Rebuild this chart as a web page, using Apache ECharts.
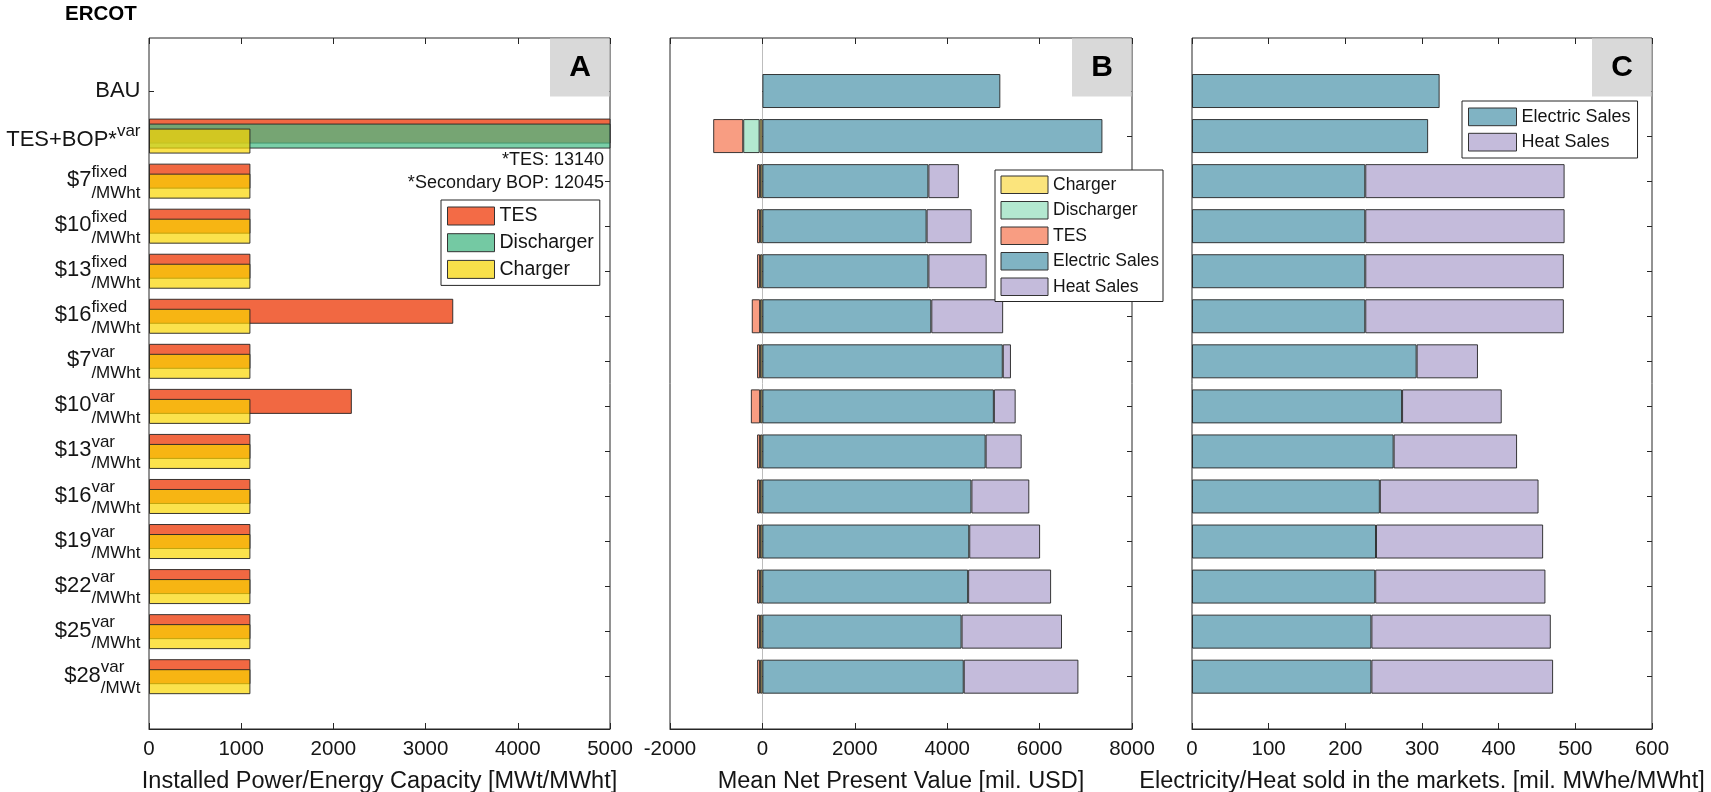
<!DOCTYPE html>
<html>
<head>
<meta charset="utf-8">
<script src="https://cdn.jsdelivr.net/npm/echarts@6/dist/echarts.min.js"></script>
<style>
  html, body { margin: 0; padding: 0; background: #fff; }
  #chart { width: 1711px; height: 792px; }
</style>
</head>
<body>
<div id="chart"></div>
<script>
// ---- Scenario labels (main text, superscript, subscript) ----
const caseMain = ['BAU', 'TES+BOP*', '$7', '$10', '$13', '$16', '$7', '$10', '$13', '$16', '$19', '$22', '$25', '$28'];
const caseSup  = ['', 'var', 'fixed', 'fixed', 'fixed', 'fixed', 'var', 'var', 'var', 'var', 'var', 'var', 'var', 'var'];
const caseSub  = ['', '', '/MWht', '/MWht', '/MWht', '/MWht', '/MWht', '/MWht', '/MWht', '/MWht', '/MWht', '/MWht', '/MWht', '/MWt'];

// ---- Panel A: installed capacity [MWt / MWht] ----
const capTES        = [0, 13140, 1100, 1100, 1100, 3300, 1100, 2200, 1100, 1100, 1100, 1100, 1100, 1100];
const capDischarger = [0, 12045, 0, 0, 0, 0, 0, 0, 0, 0, 0, 0, 0, 0];
const capCharger    = [0, 1100, 1100, 1100, 1100, 1100, 1100, 1100, 1100, 1100, 1100, 1100, 1100, 1100];

// ---- Panel B: mean net present value [mil. USD] ----
const npvCharger    = [0, -60, -50, -50, -50, -50, -50, -50, -50, -50, -50, -50, -50, -50];
const npvDischarger = [0, -355, 0, 0, 0, 0, 0, 0, 0, 0, 0, 0, 0, 0];
const npvTES        = [0, -650, -65, -65, -65, -180, -65, -200, -65, -65, -65, -65, -65, -65];
const npvElectric   = [5150, 7360, 3593, 3554, 3593, 3656, 5203, 5010, 4832, 4524, 4477, 4453, 4311, 4358];
const npvHeat       = [0, 0, 659, 975, 1261, 1555, 177, 472, 780, 1253, 1534, 1796, 2174, 2482];

// ---- Panel C: energy sold [mil. MWhe / MWht] ----
const mktElectric = [323, 308, 226, 226, 226, 226, 293, 274, 263, 245, 240, 239, 234, 234];
const mktHeat     = [0, 0, 260, 260, 259, 259, 80, 130, 161, 207, 218, 222, 234, 237];

// ---- Axis ranges ----
const axisA = { min: 0, max: 5000, interval: 1000 };
const axisB = { min: -2000, max: 8000, interval: 2000 };
const axisC = { min: 0, max: 600, interval: 100 };

const FONT = '"Liberation Sans", Arial, Helvetica, sans-serif';
const TXT = '#151515';
const AX = '#262626';
const EDGE = 'rgba(35,35,35,0.9)';

// layout of the three panels
const panels = [
  { left: 149, width: 461 },
  { left: 670, width: 462 },
  { left: 1192, width: 460 }
];
const frameTop = 38, frameHeight = 691;
const barTop = 68.5, barHeight = 630.7;

const keys = caseMain.map((_, i) => String(i));
const nz = arr => arr.map(v => (v === 0 ? '-' : v));

// rich text for the scenario labels: main text followed by a stacked super/subscript
const MAIN_SIZE = 22;
const measure = document.createElement('canvas').getContext('2d');
measure.font = MAIN_SIZE + 'px "Liberation Sans"';
const rich = {
  b:  { fontSize: MAIN_SIZE, fontFamily: FONT, color: TXT, align: 'left' },
  m:  { fontSize: MAIN_SIZE, fontFamily: FONT, color: TXT, align: 'left', lineHeight: 1 },
  s:  { fontSize: 17, fontFamily: FONT, color: TXT, align: 'left', lineHeight: 15.6 },
  u:  { fontSize: 17, fontFamily: FONT, color: TXT, align: 'left', lineHeight: 24.4 },
  e:  { fontSize: 1, align: 'left', lineHeight: 6.8 },
  s2: { fontSize: 17, fontFamily: FONT, color: TXT, align: 'left', lineHeight: 8 },
  m2: { fontSize: MAIN_SIZE, fontFamily: FONT, color: TXT, align: 'left', lineHeight: 8.6 }
};
caseMain.forEach((t, i) => {
  rich['p' + i] = { width: measure.measureText(t).width, fontSize: 1, lineHeight: 1, align: 'left' };
});
function caseLabel(value) {
  const i = Number(value);
  const m = caseMain[i], s = caseSup[i], u = caseSub[i];
  if (!s && !u) return '{b|' + m + '}';
  if (!u) return '{p' + i + '| }{s2|' + s + '}\n{m2|' + m + '}';
  return '{e| }\n{p' + i + '| }{s|' + s + '}\n{m|' + m + '}\n{p' + i + '| }{u|' + u + '}';
}

const grids = [];
const xAxes = [];
const yAxes = [];
const ranges = [axisA, axisB, axisC];
const names = [
  'Installed Power/Energy Capacity [MWt/MWht]',
  'Mean Net Present Value [mil. USD]',
  'Electricity/Heat sold in the markets. [mil. MWhe/MWht]'
];

panels.forEach((p, k) => {
  const r = ranges[k];
  grids.push({ left: p.left, top: frameTop, width: p.width, height: frameHeight, show: true,
    borderColor: AX, borderWidth: 1, backgroundColor: 'transparent', containLabel: false, outerBoundsMode: 'none' });
  grids.push({ left: p.left, top: barTop, width: p.width, height: barHeight, show: false,
    containLabel: false, outerBoundsMode: 'none' });

  xAxes.push({
    gridIndex: 2 * k, type: 'value', position: 'bottom', min: r.min, max: r.max, interval: r.interval,
    axisLine: { show: true, onZero: false, lineStyle: { color: AX, width: 1 } },
    axisTick: { show: true, inside: true, length: 6, lineStyle: { color: AX } },
    axisLabel: { margin: 10, fontSize: 20.5, color: TXT, fontFamily: FONT, formatter: v => String(v) },
    splitLine: { show: false },
    name: names[k], nameLocation: 'middle', nameGap: 41, nameMoveOverlap: false,
    nameTextStyle: { fontSize: 23.5, color: TXT, fontFamily: FONT }
  });
  xAxes.push({
    gridIndex: 2 * k, type: 'value', position: 'top', min: r.min, max: r.max, interval: r.interval,
    axisLine: { show: false, onZero: false },
    axisTick: { show: true, inside: true, length: 6, lineStyle: { color: AX } },
    axisLabel: { show: false }, splitLine: { show: false }
  });
  xAxes.push({
    gridIndex: 2 * k + 1, type: 'value', min: r.min, max: r.max, show: false
  });

  yAxes.push({
    gridIndex: 2 * k, type: 'value', min: 0, max: 1, show: k === 1,
    axisLine: { show: true, onZero: true, lineStyle: { color: '#bdbdbd', width: 1 } },
    axisTick: { show: false }, axisLabel: { show: false }, splitLine: { show: false }
  });
  yAxes.push({
    gridIndex: 2 * k + 1, type: 'category', data: keys, inverse: true, position: 'left',
    axisLine: { show: false },
    axisTick: { show: true, inside: true, alignWithLabel: true, length: 5, lineStyle: { color: AX } },
    axisLabel: k === 0
      ? { show: true, interval: 0, margin: 8.5, formatter: caseLabel, rich: rich, color: TXT, fontFamily: FONT }
      : { show: false },
    splitLine: { show: false }
  });
  yAxes.push({
    gridIndex: 2 * k + 1, type: 'category', data: keys, inverse: true, position: 'right',
    axisLine: { show: false },
    axisTick: { show: true, inside: true, alignWithLabel: true, length: 5, lineStyle: { color: AX } },
    axisLabel: { show: false }, splitLine: { show: false }
  });
});

// colours
const C = {
  tesA: 'rgb(241,104,66)', disA: 'rgba(70,188,135,0.72)', chgA: 'rgba(250,214,0,0.7)',
  tesB: '#F89D82', disB: '#B3E8D0', chgB: '#FBE47C',
  elec: '#80B3C3', heat: '#C4BBDB'
};

const barA = (name, data, color) => ({
  name, type: 'bar', xAxisIndex: 2, yAxisIndex: 1, data: nz(data),
  barWidth: 25, barGap: '-80%',
  itemStyle: { color, borderColor: EDGE, borderWidth: 1 }
});
const barB = (name, data, color) => ({
  name, type: 'bar', stack: 'npv', xAxisIndex: 5, yAxisIndex: 4, data: nz(data),
  barWidth: 34, itemStyle: { color, borderColor: EDGE, borderWidth: 1 }
});
const barC = (name, data, color) => ({
  name, type: 'bar', stack: 'mkt', xAxisIndex: 8, yAxisIndex: 7, data: nz(data),
  barWidth: 34, itemStyle: { color, borderColor: EDGE, borderWidth: 1 }
});

const series = [
  barA('TES', capTES, C.tesA),
  barA('Discharger', capDischarger, C.disA),
  barA('Charger', capCharger, C.chgA),
  barB('Charger', npvCharger, C.chgB),
  barB('Discharger', npvDischarger, C.disB),
  barB('TES', npvTES, C.tesB),
  barB('Electric Sales', npvElectric, C.elec),
  barB('Heat Sales', npvHeat, C.heat),
  barC('Electric Sales', mktElectric, C.elec),
  barC('Heat Sales', mktHeat, C.heat)
];

const legendBase = {
  orient: 'vertical', selectedMode: false, icon: 'rect',
  borderColor: AX, borderWidth: 1, backgroundColor: '#fff', borderRadius: 0,
  textStyle: { fontSize: 18, color: TXT, fontFamily: FONT },
  itemStyle: { borderColor: '#333', borderWidth: 1 }
};
const legends = [
  Object.assign({}, legendBase, {
    left: 441, top: 200, itemWidth: 47, itemHeight: 18, itemGap: 6.7, padding: [6, 6, 6, 6],
    textStyle: { fontSize: 19.5, color: TXT, fontFamily: FONT },
    data: [
      { name: 'TES', itemStyle: { color: '#F36B46', opacity: 1 } },
      { name: 'Discharger', itemStyle: { color: '#74C9A3', opacity: 1 } },
      { name: 'Charger', itemStyle: { color: '#F8E04A', opacity: 1 } }
    ]
  }),
  Object.assign({}, legendBase, {
    left: 995, top: 170, itemWidth: 47, itemHeight: 17.5, itemGap: 7, padding: [5.5, 4, 5.5, 5.5],
    textStyle: { fontSize: 17.5, color: TXT, fontFamily: FONT },
    data: [
      { name: 'Charger', itemStyle: { color: C.chgB, opacity: 1 } },
      { name: 'Discharger', itemStyle: { color: C.disB, opacity: 1 } },
      { name: 'TES', itemStyle: { color: C.tesB, opacity: 1 } },
      { name: 'Electric Sales', itemStyle: { color: C.elec, opacity: 1 } },
      { name: 'Heat Sales', itemStyle: { color: C.heat, opacity: 1 } }
    ]
  }),
  Object.assign({}, legendBase, {
    left: 1462, top: 101, itemWidth: 48, itemHeight: 17.7, itemGap: 6.6, padding: [6.5, 7, 6.5, 6],
    data: [
      { name: 'Electric Sales', itemStyle: { color: C.elec, opacity: 1 } },
      { name: 'Heat Sales', itemStyle: { color: C.heat, opacity: 1 } }
    ]
  })
];

// panel tags, title and notes
const graphics = [
  { type: 'text', left: 65, top: 4, style: { text: 'ERCOT', font: 'bold 20.5px ' + FONT, fill: '#000' } }
];
['A', 'B', 'C'].forEach((tag, k) => {
  const right = panels[k].left + panels[k].width;
  graphics.push({ type: 'rect', z: 1, shape: { x: right - 60, y: frameTop + 0.5, width: 59.5, height: 58 },
    style: { fill: '#D9D9D9' } });
  graphics.push({ type: 'text', z: 2, x: right - 30, y: frameTop + 30,
    style: { text: tag, font: 'bold 30px ' + FONT, fill: '#000', textAlign: 'center', textVerticalAlign: 'middle' } });
});
graphics.push({ type: 'text', z: 3, x: 604, y: 160,
  style: { text: '*TES: ' + capTES[1], font: '18px ' + FONT, fill: TXT, textAlign: 'right', textVerticalAlign: 'middle' } });
graphics.push({ type: 'text', z: 3, x: 604, y: 183,
  style: { text: '*Secondary BOP: ' + capDischarger[1], font: '18px ' + FONT, fill: TXT, textAlign: 'right', textVerticalAlign: 'middle' } });

const chart = echarts.init(document.getElementById('chart'), null, { renderer: 'canvas', width: 1711, height: 792 });
chart.setOption({
  animation: false,
  backgroundColor: '#fff',
  textStyle: { fontFamily: FONT },
  grid: grids,
  xAxis: xAxes,
  yAxis: yAxes,
  legend: legends,
  graphic: graphics,
  series: series
});
</script>
</body>
</html>
